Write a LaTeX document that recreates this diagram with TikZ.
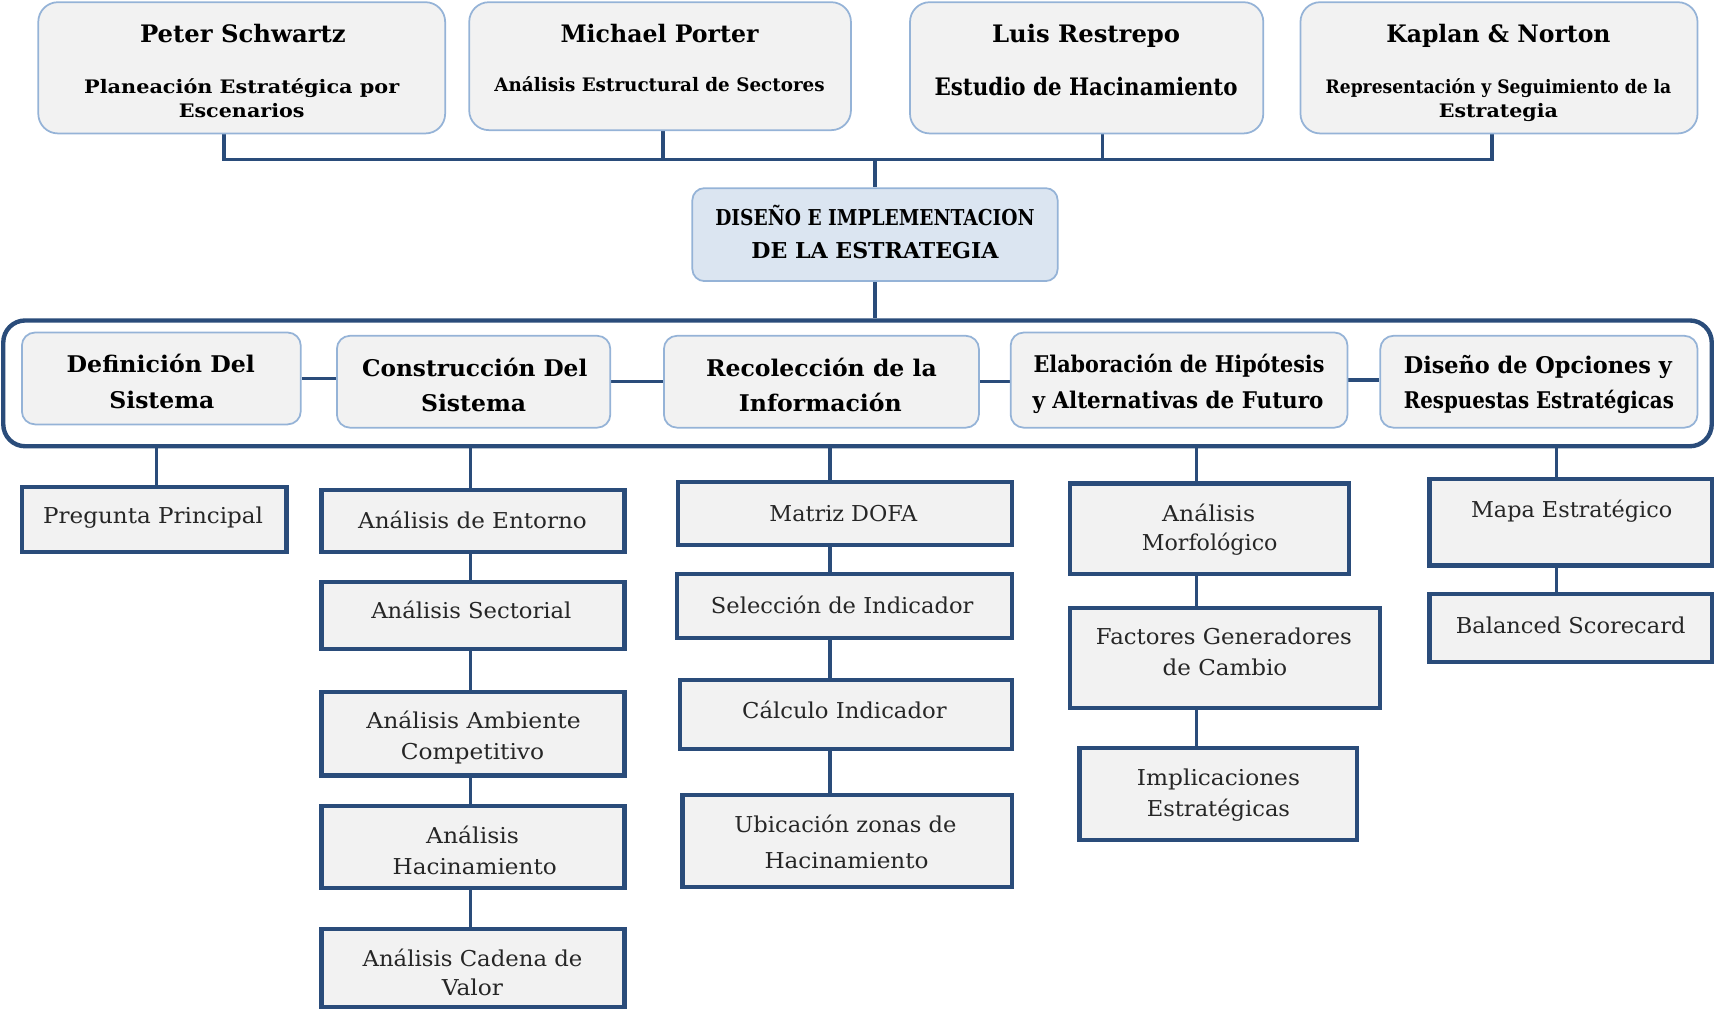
\documentclass[tikz,border=0pt]{standalone}
\usepackage{fontspec}
\setmainfont{DejaVu Serif}
\usepackage{graphicx}
\usetikzlibrary{backgrounds}

\definecolor{lineblue}{RGB}{42,76,122}
\definecolor{paleblue}{RGB}{149,179,215}
\definecolor{boxgray}{RGB}{242,242,242}
\definecolor{headfill}{RGB}{219,229,241}
\definecolor{txt}{RGB}{38,38,38}

% set a line of text to a given width (in pt), scaling it horizontally only
\newlength\fitlen
\newcommand\fitx[2]{\settowidth\fitlen{#2}\pgfmathsetmacro\fitr{#1/\fitlen}\scalebox{\fitr}[1]{#2}}
% box node from its corner coordinates: style, name, x1, y1, x2, y2
\newcommand\boxat[6]{\node[#1,minimum width={#5-#3},minimum height={#6-#4}] (#2) at ({(#3+#5)/2},{(#4+#6)/2}) {};}
% one line of text: style, name, x, y, width, text
\newcommand\tline[6]{\node[#1] (#2) at (#3,#4) {\fitx{#5}{#6}};}

\begin{document}
\begin{tikzpicture}[x=1pt,y=-1pt,
  topbox/.style={draw=paleblue,line width=1.6pt,fill=boxgray,rounded corners=18pt,inner sep=0pt},
  headbox/.style={draw=paleblue,line width=1.6pt,fill=headfill,rounded corners=11pt,inner sep=0pt},
  stagebox/.style={draw=paleblue,line width=1.6pt,fill=boxgray,rounded corners=12pt,inner sep=0pt},
  outerframe/.style={draw=lineblue,line width=4pt,rounded corners=20pt,inner sep=0pt},
  subbox/.style={draw=lineblue,line width=3.8pt,fill=boxgray,inner sep=0pt},
  link/.style={draw=lineblue,line width=3.2pt},
  lbl/.style={inner sep=0pt,text height=0.72em,text depth=0.22em,yshift=-6pt},
  ttl/.style={lbl,font=\fontsize{22}{24}\bfseries,text=black},
  sttl/.style={lbl,font=\fontsize{17}{19}\bfseries,text=black},
  hd/.style={lbl,font=\fontsize{20}{22}\bfseries,text=black},
  stg/.style={lbl,font=\fontsize{21}{23}\bfseries,text=black},
  subtxt/.style={lbl,font=\fontsize{20}{22}\selectfont,text=txt},
]
\useasboundingbox (0,0) rectangle (1568,924);

% authors
\boxat{topbox}{peter}{35}{2}{407}{122}
\boxat{topbox}{porter}{429}{2}{778}{119}
\boxat{topbox}{restrepo}{832}{2}{1155}{122}
\boxat{topbox}{kaplan}{1189}{2}{1552}{122}
\tline{ttl}{peter-a}{222}{30}{188}{Peter Schwartz}
\tline{sttl}{peter-b}{221}{77}{288}{Planeación Estratégica por}
\tline{sttl}{peter-c}{221}{99}{115}{Escenarios}
\tline{ttl}{porter-a}{603}{30}{181}{Michael Porter}
\tline{sttl}{porter-b}{603}{75}{302}{Análisis Estructural de Sectores}
\tline{ttl}{restrepo-a}{993}{30}{172}{Luis Restrepo}
\tline{ttl}{restrepo-b}{993}{79}{277}{Estudio de Hacinamiento}
\tline{ttl}{kaplan-a}{1370}{30}{205}{Kaplan \& Norton}
\tline{sttl}{kaplan-b}{1370}{77}{316}{Representación y Seguimiento de la}
\tline{sttl}{kaplan-c}{1370}{99}{109}{Estrategia}

% central node
\boxat{headbox}{head}{633}{172}{967}{257}
\tline{hd}{head-a}{800}{198}{292}{DISEÑO E IMPLEMENTACION}
\tline{hd}{head-b}{800}{228}{226}{DE LA ESTRATEGIA}

% process stages
\boxat{outerframe}{frame}{3}{293}{1565}{408}
\boxat{stagebox}{s1}{20}{304}{275}{388}
\boxat{stagebox}{s2}{308}{307}{558}{391}
\boxat{stagebox}{s3}{607}{307}{895}{391}
\boxat{stagebox}{s4}{924}{304}{1232}{391}
\boxat{stagebox}{s5}{1262}{307}{1552}{391}
\tline{stg}{s1-a}{147}{332}{172}{Definición Del}
\tline{stg}{s1-b}{148}{365}{96}{Sistema}
\tline{stg}{s2-a}{434}{336}{206}{Construcción Del}
\tline{stg}{s2-b}{433}{368}{96}{Sistema}
\tline{stg}{s3-a}{751}{336}{211}{Recolección de la}
\tline{stg}{s3-b}{750}{368}{149}{Información}
\tline{stg}{s4-a}{1078}{332}{266}{Elaboración de Hipótesis}
\tline{stg}{s4-b}{1077}{365}{266}{y Alternativas de Futuro}
\tline{stg}{s5-a}{1406}{333}{245}{Diseño de Opciones y}
\tline{stg}{s5-b}{1407}{365}{247}{Respuestas Estratégicas}

% activities
\boxat{subbox}{preg}{20}{445}{262}{505}
\tline{subtxt}{preg-a}{140}{470}{201}{Pregunta Principal}

\boxat{subbox}{ent}{294}{448}{571}{505}
\boxat{subbox}{sec}{294}{532}{571}{593}
\boxat{subbox}{amb}{294}{633}{571}{709}
\boxat{subbox}{hac}{294}{737}{571}{812}
\boxat{subbox}{cad}{294}{849}{571}{921}
\tline{subtxt}{ent-a}{432}{475}{209}{Análisis de Entorno}
\tline{subtxt}{sec-a}{431}{557}{183}{Análisis Sectorial}
\tline{subtxt}{amb-a}{433}{658}{196}{Análisis Ambiente}
\tline{subtxt}{amb-b}{432}{686}{131}{Competitivo}
\tline{subtxt}{hac-a}{432}{763}{85}{Análisis}
\tline{subtxt}{hac-b}{434}{791}{150}{Hacinamiento}
\tline{subtxt}{cad-a}{432}{875}{201}{Análisis Cadena de}
\tline{subtxt}{cad-b}{432}{902}{56}{Valor}

\boxat{subbox}{dofa}{620}{441}{925}{498}
\boxat{subbox}{sel}{619}{525}{925}{583}
\boxat{subbox}{calc}{622}{622}{925}{685}
\boxat{subbox}{ubi}{624}{727}{925}{811}
\tline{subtxt}{dofa-a}{771}{468}{135}{Matriz DOFA}
\tline{subtxt}{sel-a}{770}{552}{240}{Selección de Indicador}
\tline{subtxt}{calc-a}{772}{648}{187}{Cálculo Indicador}
\tline{subtxt}{ubi-a}{773}{753}{203}{Ubicación zonas de}
\tline{subtxt}{ubi-b}{774}{786}{150}{Hacinamiento}

\boxat{subbox}{morf}{978}{442}{1233}{525}
\boxat{subbox}{fact}{978}{556}{1262}{647}
\boxat{subbox}{impl}{987}{684}{1241}{768}
\tline{subtxt}{morf-a}{1105}{468}{85}{Análisis}
\tline{subtxt}{morf-b}{1106}{495}{124}{Morfológico}
\tline{subtxt}{fact-a}{1119}{581}{234}{Factores Generadores}
\tline{subtxt}{fact-b}{1120}{609}{114}{de Cambio}
\tline{subtxt}{impl-a}{1114}{710}{149}{Implicaciones}
\tline{subtxt}{impl-b}{1114}{738}{131}{Estratégicas}

\boxat{subbox}{mapa}{1307}{438}{1565}{517}
\boxat{subbox}{bal}{1307}{543}{1565}{605}
\tline{subtxt}{mapa-a}{1437}{465}{184}{Mapa Estratégico}
\tline{subtxt}{bal-a}{1436}{571}{210}{Balanced Scorecard}

% connectors
\coordinate (b1) at (205,146);
\coordinate (b2) at (606,146);
\coordinate (b3) at (1008,146);
\coordinate (b4) at (1364,146);
\coordinate (bc) at (800,146);
\coordinate (k1) at (143,0);
\coordinate (k2) at (430,0);
\coordinate (k3) at (759,0);
\coordinate (k4) at (1094,0);
\coordinate (k5) at (1423,0);

\begin{pgfonlayer}{background}
  \draw[link] (peter.south -| b1) -- (b1) -- (b4) -- (kaplan.south -| b4);
  \draw[link] (porter.south -| b2) -- (b2);
  \draw[link] (restrepo.south -| b3) -- (b3);
  \draw[link] (bc) -- (head.north);
  \draw[link] (head.south) -- (head.south |- frame.north);
  \foreach \a/\b in {s1/s2,s2/s3,s3/s4,s4/s5}
    \draw[link] (\a.east) -- (\a.east -| \b.west);
  \draw[link] (frame.south -| k1) -- (preg.north -| k1);
  \draw[link] (frame.south -| k2) -- (ent.north -| k2);
  \foreach \a/\b in {ent/sec,sec/amb,amb/hac,hac/cad}
    \draw[link] (\a.south -| k2) -- (\b.north -| k2);
  \draw[link] (frame.south -| k3) -- (dofa.north -| k3);
  \foreach \a/\b in {dofa/sel,sel/calc,calc/ubi}
    \draw[link] (\a.south -| k3) -- (\b.north -| k3);
  \draw[link] (frame.south -| k4) -- (morf.north -| k4);
  \foreach \a/\b in {morf/fact,fact/impl}
    \draw[link] (\a.south -| k4) -- (\b.north -| k4);
  \draw[link] (frame.south -| k5) -- (mapa.north -| k5);
  \draw[link] (mapa.south -| k5) -- (bal.north -| k5);
\end{pgfonlayer}
\end{tikzpicture}
\end{document}
